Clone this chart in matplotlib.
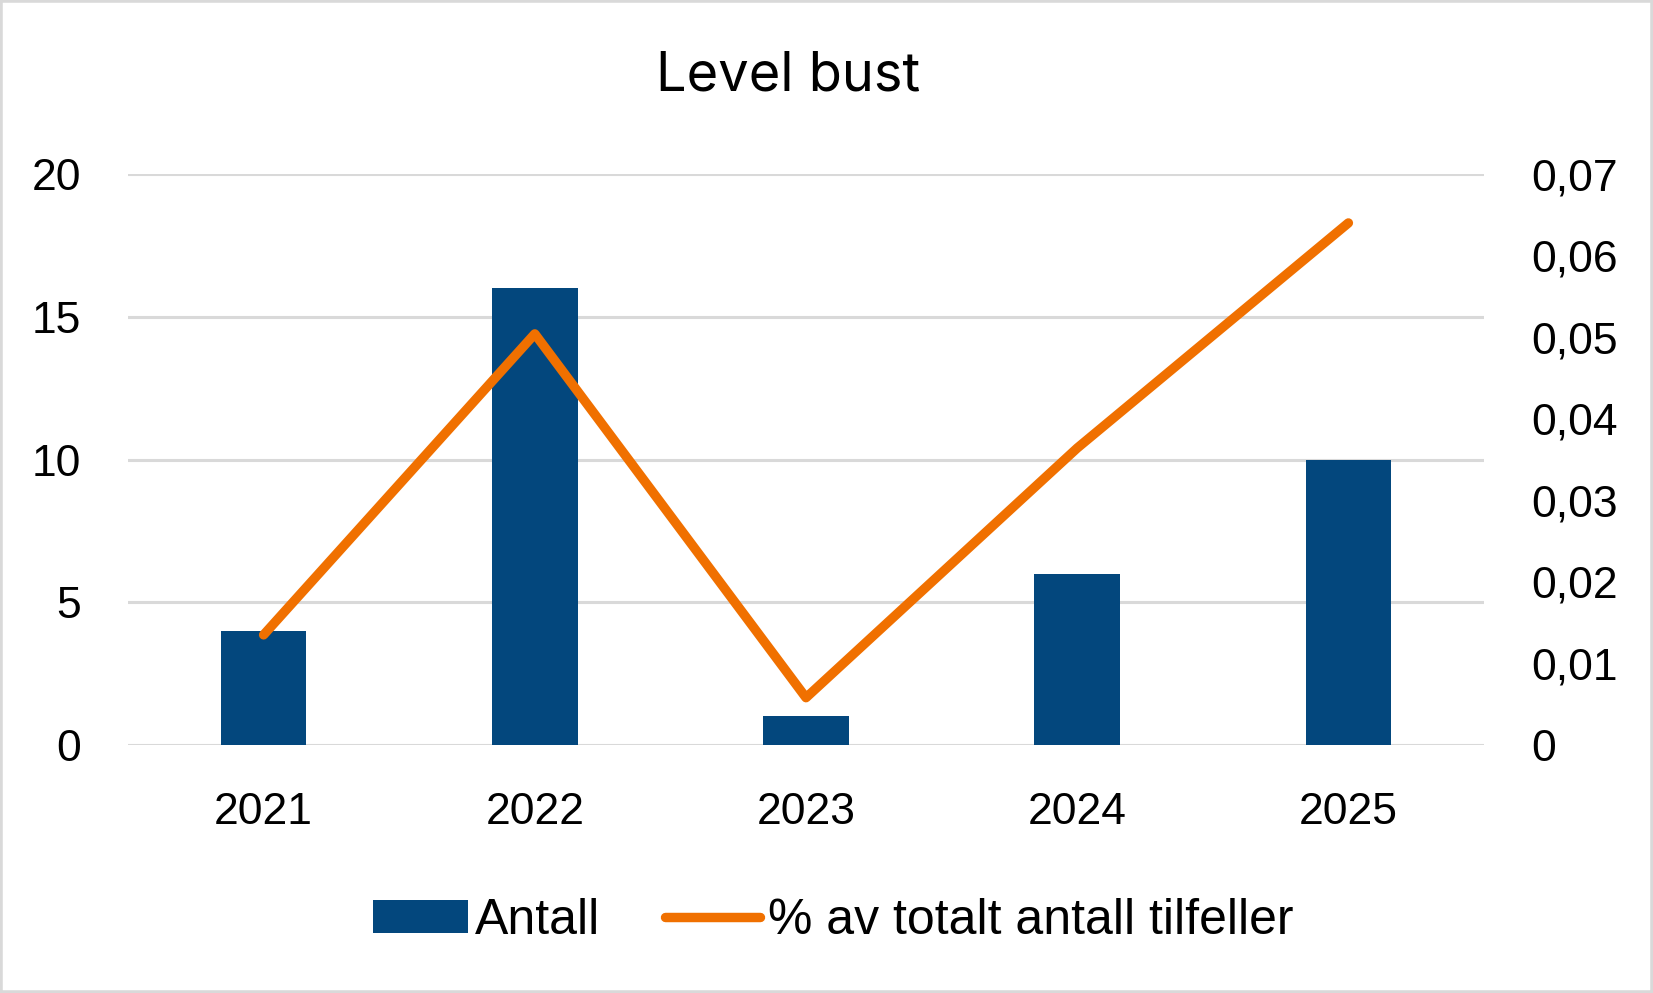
import matplotlib
matplotlib.use("Agg")
import matplotlib.pyplot as plt
from matplotlib import font_manager
from matplotlib.patches import Patch, Rectangle
from matplotlib.lines import Line2D

years = ["2021", "2022", "2023", "2024", "2025"]
antall = [4, 16, 1, 6, 10]
andel = [0.0135, 0.0504, 0.0058, 0.0364, 0.0640]
left_ticks = [0, 5, 10, 15, 20]
right_ticks = [0, 0.01, 0.02, 0.03, 0.04, 0.05, 0.06, 0.07]
right_labels = ["0", "0,01", "0,02", "0,03", "0,04", "0,05", "0,06", "0,07"]
title = "Level bust"
legend_labels = ["Antall", "% av totalt antall tilfeller"]

BAR = "#03477D"
ORANGE = "#F07000"
GRID = "#D9D9D9"

names = {f.name for f in font_manager.fontManager.ttflist}
tick_font = "Liberation Sans" if "Liberation Sans" in names else "DejaVu Sans"
narrow = "Liberation Sans Narrow" if "Liberation Sans Narrow" in names else tick_font
title_font = "Inter" if "Inter" in names else tick_font

fig = plt.figure(figsize=(16.53, 9.93), dpi=100)
ax = fig.add_axes([128/1653, 1 - 745/993, (1484-128)/1653, (745-174)/993])
ax2 = ax.twinx()

x = list(range(len(years)))
ax.bar(x, antall, width=0.315, color=BAR, zorder=2)
ax.set_xlim(-0.5, len(years) - 0.5)
ax.set_ylim(0, 20)
ax.set_yticks(left_ticks)
ax.set_xticks(x)
ax.set_xticklabels(years)
ax.grid(axis="y", color=GRID, linewidth=2.2, zorder=0)
ax.set_axisbelow(True)

ax2.plot(x, andel, color=ORANGE, linewidth=6.8, solid_capstyle="round",
         solid_joinstyle="round", zorder=3)
ax2.set_ylim(0, 0.07)
ax2.set_yticks(right_ticks)
ax2.set_yticklabels(right_labels)

for a in (ax, ax2):
    for s in a.spines.values():
        s.set_visible(False)
    a.tick_params(length=0, labelsize=32, colors="black")
    for lab in a.get_xticklabels() + a.get_yticklabels():
        lab.set_fontfamily(tick_font)
ax.tick_params(axis="y", pad=34)
ax.tick_params(axis="x", pad=34)
ax2.tick_params(axis="y", pad=34)

fig.text(788/1653, 1 - 76/993, title, ha="center", va="center",
         fontsize=39, family=title_font)

handles = [Patch(facecolor=BAR, edgecolor="none"),
           Line2D([0], [0], color=ORANGE, linewidth=6.8, solid_capstyle="round")]
leg = fig.legend(handles, legend_labels, loc="center", ncol=2,
                 bbox_to_anchor=(833/1653, 1 - 921/993), frameon=False,
                 prop={"family": narrow, "size": 36},
                 handlelength=1.9, handleheight=0.62, handletextpad=0.15,
                 columnspacing=1.3)

fig.patches.append(Rectangle((0, 0), 1, 1, transform=fig.transFigure,
                             fill=False, edgecolor=GRID, linewidth=4, zorder=10))

fig.savefig("out.png", dpi=100, facecolor="white")
